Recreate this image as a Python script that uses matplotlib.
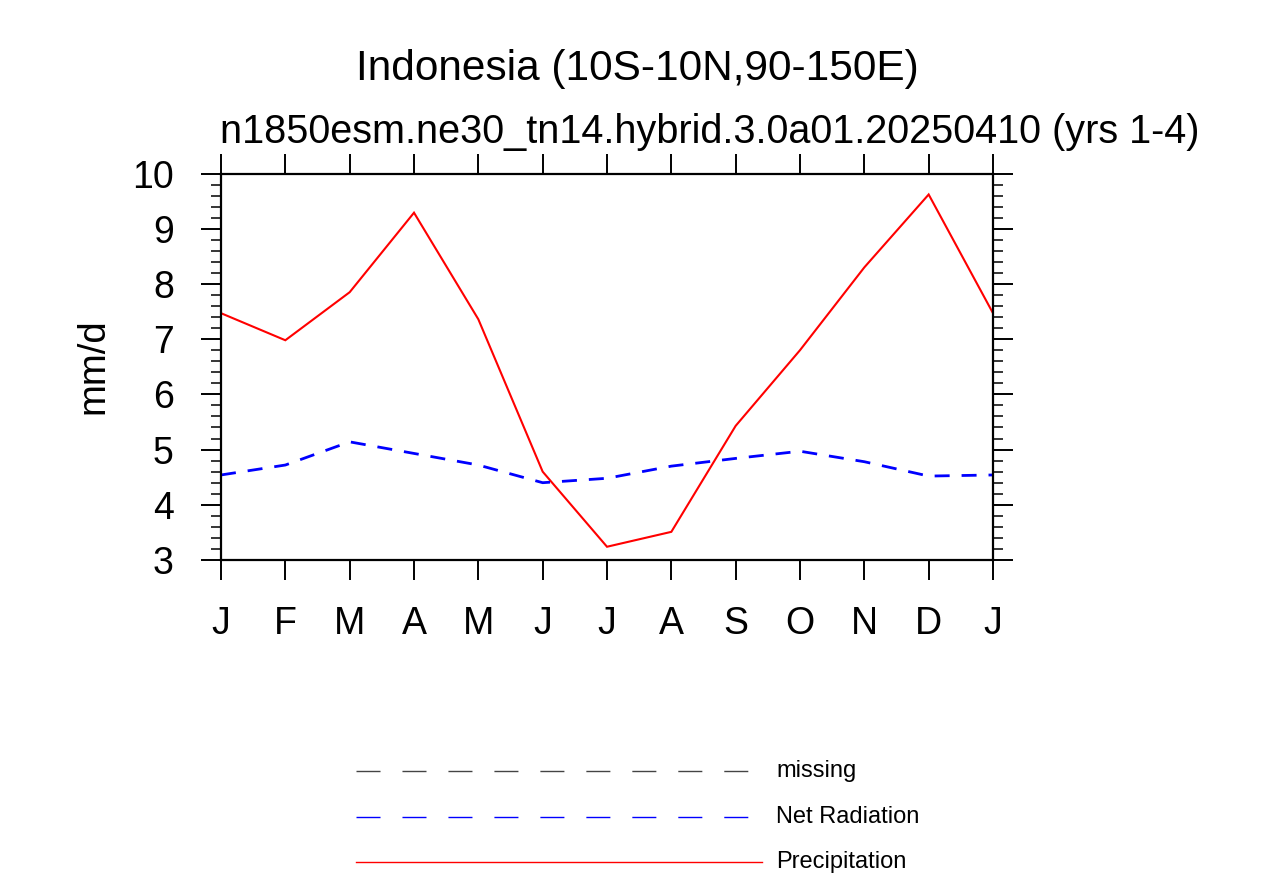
import matplotlib
matplotlib.use("Agg")
import matplotlib.pyplot as plt
from matplotlib.lines import Line2D
import numpy as np

plt.rcParams['font.family'] = ['Liberation Sans', 'DejaVu Sans']
plt.rcParams['lines.scale_dashes'] = False

months = ["J", "F", "M", "A", "M", "J", "J", "A", "S", "O", "N", "D", "J"]
precipitation = [7.47, 6.98, 7.85, 9.29, 7.36, 4.60, 3.24, 3.51, 5.43, 6.80, 8.30, 9.62, 7.47]
net_radiation = [4.54, 4.72, 5.14, 4.93, 4.72, 4.40, 4.48, 4.70, 4.84, 4.97, 4.78, 4.52, 4.54]
legend_labels = ["missing", "Net Radiation", "Precipitation"]

title = "Indonesia (10S-10N,90-150E)"
subtitle = "n1850esm.ne30_tn14.hybrid.3.0a01.20250410 (yrs 1-4)"

W, H = 1275, 876
fig = plt.figure(figsize=(W / 100, H / 100), dpi=100)
ax = fig.add_axes([221 / W, 1 - 560 / H, (993 - 221) / W, (560 - 173.5) / H])

x = np.arange(len(months))
ax.plot(x, precipitation, color="red", lw=1.5, solid_joinstyle="miter")
ax.plot(x, net_radiation, color="blue", lw=2.0, dashes=(10.8, 8.6))

ax.set_xlim(0, 12)
ax.set_ylim(3, 10)
ax.set_xticks(x)
ax.set_xticklabels(months)
ax.set_yticks(np.arange(3, 11, 1))
ax.set_yticks(np.arange(3, 10.01, 0.2), minor=True)

for s in ax.spines.values():
    s.set_linewidth(1.6)

ax.tick_params(axis="both", which="major", direction="out", length=14.4, width=1.4,
               labelsize=27)
ax.tick_params(axis="x", which="major", top=True, bottom=True, pad=19)
ax.tick_params(axis="y", which="major", left=True, right=True, pad=19.5)
ax.tick_params(axis="y", which="minor", direction="out", length=7.2, width=1.1,
               left=True, right=True)
ax.tick_params(axis="x", which="minor", bottom=False, top=False)

fig.text(93 / W, 1 - 366 / H, "mm/d", rotation=90, ha="center", va="center", fontsize=27.5)

fig.text(637 / W, 1 - 80 / H, title, ha="center", va="baseline", fontsize=30.5)
fig.text(710 / W, 1 - 143 / H, subtitle, ha="center", va="baseline", fontsize=28.5)

# legend
rows_y = [771, 817, 862]
colors = ["#444444", "blue", "red"]
styles = [(17.3, 15.8), (17.3, 15.8), None]
ends = [748, 748, 762]
for lab, yy, c, st, xe in zip(legend_labels, rows_y, colors, styles, ends):
    ln = Line2D([356 / W, xe / W], [1 - yy / H, 1 - yy / H], transform=fig.transFigure,
                color=c, lw=1.0)
    if st is not None:
        ln.set_dashes(st)
    fig.add_artist(ln)
    fig.text(776 / W, 1 - yy / H, lab, ha="left", va="center", fontsize=17)

fig.savefig("out.png", dpi=100)
